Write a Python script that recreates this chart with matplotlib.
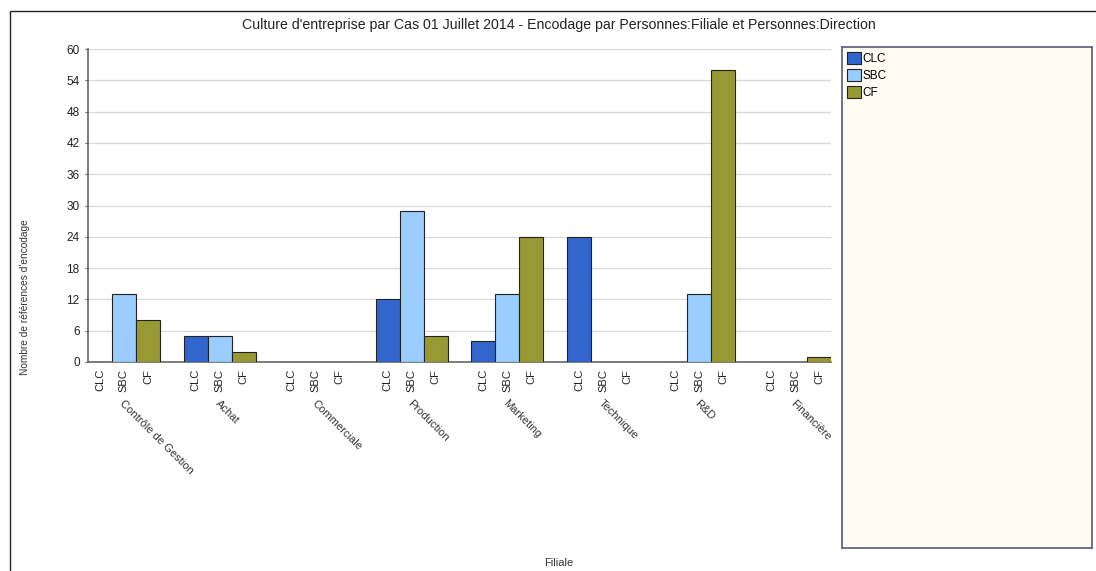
import matplotlib
matplotlib.use("Agg")
import matplotlib.pyplot as plt
from matplotlib.patches import Rectangle, Patch
import numpy as np

plt.rcParams['font.family'] = ['Liberation Sans', 'DejaVu Sans']

categories = ["Contrôle de Gestion", "Achat", "Commerciale", "Production",
              "Marketing", "Technique", "R&D", "Financière"]
series = ["CLC", "SBC", "CF"]
clc = [0, 5, 0, 12, 4, 24, 0, 0]
sbc = [13, 5, 0, 29, 13, 0, 13, 0]
cf = [8, 2, 0, 5, 24, 0, 56, 1]
values = [clc, sbc, cf]
colors = ["#3366CC", "#99CCFF", "#999933"]
yticks = [0, 6, 12, 18, 24, 30, 36, 42, 48, 54, 60]

W, H = 1096, 571
fig = plt.figure(figsize=(W / 100, H / 100), dpi=100)
fig.patch.set_facecolor("white")

# outer frame (left and top visible)
fig.add_artist(Rectangle((10 / W, -0.2), 1.5, 0.2 + 1 - 11 / H, transform=fig.transFigure,
                         fill=False, edgecolor="#222222", linewidth=1.0))

ax = fig.add_axes([88 / W, 1 - 362 / H, (831 - 88) / W, (362 - 49) / H])
n_series = len(series)
slot = n_series + 1
positions = []
labels = []
for s, (name, vals, col) in enumerate(zip(series, values, colors)):
    xs = np.arange(len(categories)) * slot + s
    ax.bar(xs, vals, width=1.0, color=col, edgecolor="#222222", linewidth=0.8,
           label=name, zorder=3)
    positions.extend(xs)
    labels.extend([name] * len(categories))

order = np.argsort(positions)
ax.set_xticks(np.array(positions)[order])
ax.set_xticklabels(np.array(labels)[order], rotation=90, fontsize=8, color="#222222")
ax.tick_params(axis="x", length=0, pad=5)
ax.set_xlim(-0.5, (len(categories) - 1) * slot + n_series - 0.5)
ax.set_ylim(0, 60)
ax.set_yticks(yticks)
ax.tick_params(axis="y", labelsize=8.5, length=2, color="#666666", labelcolor="#222222", pad=4)
ax.yaxis.grid(True, color="#D8D8D8", linewidth=0.9, zorder=0)
ax.set_axisbelow(True)
for sp in ["top", "right"]:
    ax.spines[sp].set_visible(False)
ax.spines["left"].set_color("#666666")
ax.spines["bottom"].set_color("#666666")
ax.spines["left"].set_linewidth(1.2)
ax.spines["bottom"].set_linewidth(1.2)

for i, cat in enumerate(categories):
    xc = i * slot + 1
    ax.annotate(cat, xy=(xc, 0), xycoords=("data", "axes fraction"),
                xytext=(1, -36), textcoords="offset pixels",
                rotation=-45, rotation_mode="anchor", ha="left", va="top",
                fontsize=8, color="#333333")

fig.text(0.51, 1 - 25 / H, "Culture d'entreprise par Cas 01 Juillet 2014 - Encodage par Personnes:Filiale et Personnes:Direction",
         ha="center", va="center", fontsize=10.2, color="#222222")
fig.text(559 / W, 1 - 563 / H, "Filiale", ha="center", va="center", fontsize=8, color="#333333")
fig.text(25 / W, 1 - 297 / H, "Nombre de références d'encodage", ha="center", va="center",
         rotation=90, fontsize=7.3, color="#333333")

# legend panel
lax = fig.add_axes([842 / W, 1 - 548 / H, (1092 - 842) / W, (548 - 47) / H])
lax.set_facecolor("#FFFBF2")
lax.set_xticks([])
lax.set_yticks([])
for sp in lax.spines.values():
    sp.set_color("#5A5A7A")
    sp.set_linewidth(1.2)
handles = [Patch(facecolor=c, edgecolor="#222222", linewidth=0.8, label=n)
           for n, c in zip(series, colors)]
lax.legend(handles=handles, loc="upper left", frameon=False, fontsize=8.5,
           handlelength=1.2, handleheight=1.2, handletextpad=0.15,
           labelspacing=0.35, borderaxespad=0.1, borderpad=0.3)

fig.savefig("out.png", dpi=100)
